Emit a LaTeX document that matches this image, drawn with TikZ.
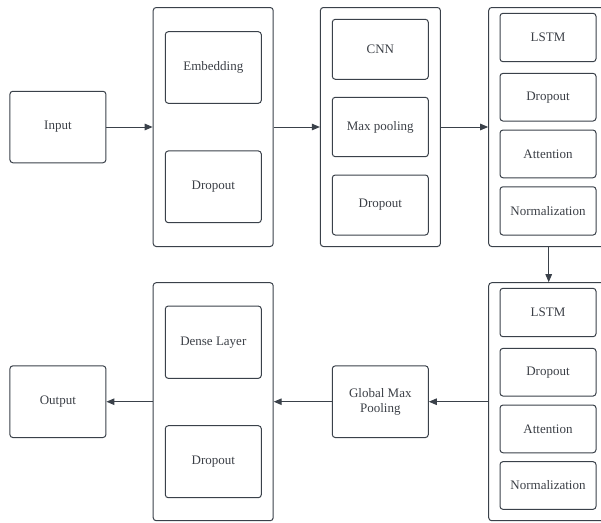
\documentclass[tikz,border=0pt]{standalone}
\usepackage{fontspec}
\setmainfont{Liberation Serif}
\usetikzlibrary{arrows.meta}
\definecolor{linegray}{HTML}{3A414A}
\definecolor{textgray}{HTML}{3B3F46}
\tikzset{
  box/.style = {draw=linegray, line width=1pt, rounded corners=3pt,
                inner sep=0pt, minimum width=96pt, minimum height=#1,
                text=textgray, align=center,
                font=\fontsize{13pt}{15pt}\selectfont},
  box/.default = 72pt,
  stack/.style = {box=#1, minimum width=120pt},
  stack/.default = 239pt,
  flow/.style = {draw=linegray, line width=1pt,
                 -{Triangle[length=8pt,width=6.5pt]}}
}

\begin{document}
\begin{tikzpicture}[x=1pt, y=-1pt]
	\useasboundingbox (0,0) rectangle (601,522);
	\clip (0,0) rectangle (601,522);
	
	% Top row
	\node[box=71.5pt] (input) at (57.9,127) {Input};
	
	\node[stack] (embblock) at (213.2,127) {};
	\node[box=71.6pt] (embed) at (213.3,67.5) {Embedding};
	\node[box=71.7pt] (drop1) at (213.3,186.8) {Dropout};
	
	\node[stack] (cnnblock) at (380.4,127) {};
	\node[box=60pt] (cnn) at (380.3,49.3) {CNN};
	\node[box=59.4pt] (maxpool) at (380.3,127) {Max pooling};
	\node[box=60pt] (drop2) at (380.3,205) {Dropout};
	
	\node[stack] (lstmblockA) at (548.7,127) {};
	\node[box=48.4pt] (lstmA) at (548,37.5) {LSTM};
	\node[box=47.7pt] (drop3) at (548,97.2) {Dropout};
	\node[box=47.7pt] (attnA) at (548,153.9) {Attention};
	\node[box=48.3pt] (normA) at (548,210.9) {Normalization};
	
	% Bottom row
	\node[stack=238pt] (lstmblockB) at (548.7,401.7) {};
	\node[box=48.4pt] (lstmB) at (548,312.5) {LSTM};
	\node[box=47.7pt] (drop4) at (548,372.2) {Dropout};
	\node[box=47.7pt] (attnB) at (548,428.9) {Attention};
	\node[box=47.7pt] (normB) at (548,485.5) {Normalization};
	
	\node[box=71.7pt] (gmp) at (380.3,401.7) {Global Max\\Pooling};
	
	\node[stack=238pt] (denseblock) at (213.2,401.7) {};
	\node[box=72.3pt] (dense) at (213.3,342.2) {Dense Layer};
	\node[box=72pt] (drop5) at (213.3,461.7) {Dropout};
	
	\node[box=71.7pt] (output) at (57.9,401.7) {Output};
	
	% Arrows
	\draw[flow] (input.east) -- (embblock.west);
	\draw[flow] (embblock.east) -- (cnnblock.west);
	\draw[flow] (cnnblock.east) -- (lstmblockA.west);
	\draw[flow] (lstmblockA.south) -- (lstmblockB.north);
	\draw[flow] (lstmblockB.west) -- (gmp.east);
	\draw[flow] (gmp.west) -- (denseblock.east);
	\draw[flow] (denseblock.west) -- (output.east);
	
\end{tikzpicture}
\end{document}
